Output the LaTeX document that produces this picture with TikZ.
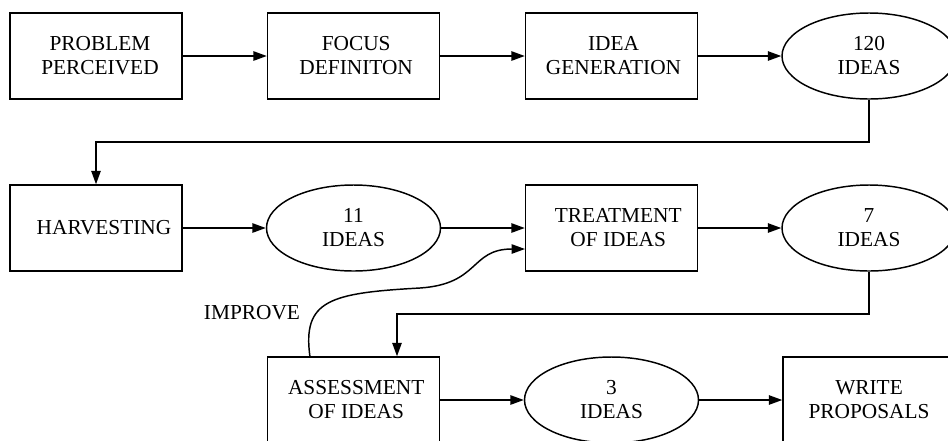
\documentclass[tikz,border=0pt]{standalone}
\usepackage{fontspec}
\setmainfont{Liberation Serif}
\usetikzlibrary{arrows.meta,shapes.geometric}
\tikzset{
  base/.style={draw, line width=1.1pt, minimum width=129pt, minimum height=64.5pt, inner sep=0pt,
    align=center, font=\fontsize{16}{18}\selectfont},
  boxnode/.style={base, rectangle},
  ovalnode/.style={base, ellipse, minimum width=130.5pt},
  arr/.style={line width=1.1pt, -{Triangle[length=10pt,width=7pt]}},
  lbl/.style={font=\fontsize{16}{18}\selectfont, inner sep=0pt}
}
\begin{document}
\begin{tikzpicture}[x=0.75pt,y=-0.75pt]
\useasboundingbox (0,0) rectangle (948,440);
\fill[white] (0,0) rectangle (948,440);
\clip (0,0) rectangle (948,440);
% row 1
\node[boxnode] (prob) at (96,56) {\hspace*{6pt}PROBLEM\\\hspace*{6pt}PERCEIVED};
\node[boxnode] (focus) at (353.5,56) {\hspace*{4pt}FOCUS\\\hspace*{4pt}DEFINITON};
\node[boxnode] (gen) at (611.5,56) {\hspace*{3pt}IDEA\\\hspace*{3pt}GENERATION};
\node[ovalnode] (i120) at (869,56) {120\\IDEAS};
% row 2
\node[boxnode] (harv) at (96,228) {\hspace*{12pt}HARVESTING};
\node[ovalnode] (i11) at (353.5,228) {11\\IDEAS};
\node[boxnode] (treat) at (611.5,228) {\hspace*{10pt}TREATMENT\\\hspace*{10pt}OF IDEAS};
\node[ovalnode] (i7) at (869,228) {7\\IDEAS};
% row 3
\node[boxnode] (assess) at (353.5,400) {\hspace*{4pt}ASSESSMENT\\\hspace*{4pt}OF IDEAS};
\node[ovalnode] (i3) at (611.5,400) {3\\IDEAS};
\node[boxnode] (write) at (869,400) {WRITE\\PROPOSALS};
\node[lbl] (improve) at (252,313) {IMPROVE};
% connectors
\draw[arr] (prob) -- (focus);
\draw[arr] (focus) -- (gen);
\draw[arr] (gen) -- (i120);
\coordinate (r1) at (96,142);
\draw[arr] (i120.south) |- (r1) -- (harv.north);
\draw[arr] (harv) -- (i11);
\draw[arr] (i11) -- (treat);
\draw[arr] (treat) -- (i7);
\coordinate (r2) at (397,314);
\draw[arr] (i7.south) |- (r2) -- (r2 |- assess.north);
\draw[arr] (assess) -- (i3);
\draw[arr] (i3) -- (write);
\coordinate (imp0) at (310,357);
\coordinate (imp1) at (525,249);
\draw[arr] (imp0) .. controls (302,300) and (330,293) .. (420,288)
  .. controls (480,284) and (470,249) .. (imp1);
\end{tikzpicture}
\end{document}
